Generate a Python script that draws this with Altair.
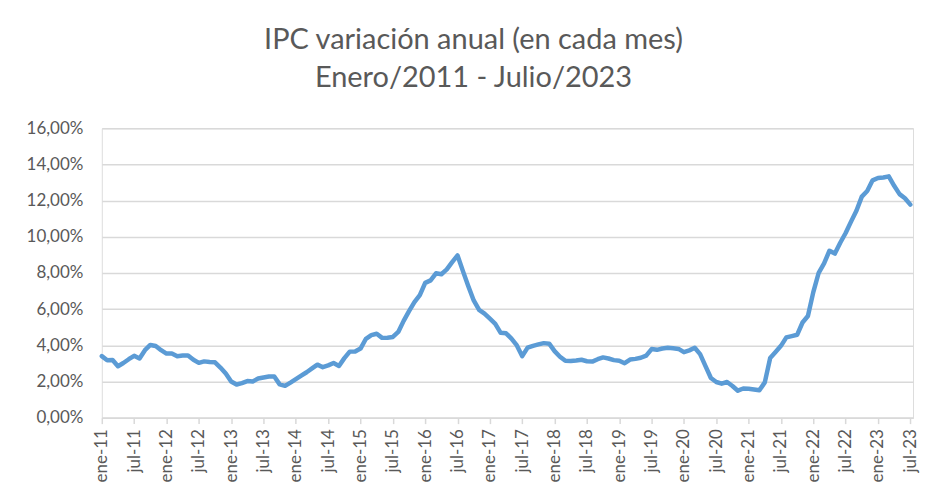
import altair as alt
import pandas as pd

# Monthly annual CPI variation (%), Jan 2011 - Jul 2023
ipc_2011 = [3.40, 3.17, 3.19, 2.84, 3.02, 3.23, 3.42, 3.27, 3.73, 4.02, 3.96, 3.73]
ipc_2012 = [3.54, 3.55, 3.40, 3.43, 3.44, 3.20, 3.03, 3.11, 3.08, 3.06, 2.77, 2.44]
ipc_2013 = [2.00, 1.83, 1.91, 2.02, 2.00, 2.16, 2.22, 2.27, 2.27, 1.84, 1.76, 1.94]
ipc_2014 = [2.13, 2.32, 2.51, 2.72, 2.93, 2.79, 2.89, 3.02, 2.86, 3.29, 3.65, 3.66]
ipc_2015 = [3.82, 4.36, 4.56, 4.64, 4.41, 4.42, 4.46, 4.74, 5.35, 5.89, 6.39, 6.77]
ipc_2016 = [7.45, 7.59, 7.98, 7.93, 8.20, 8.60, 8.97, 8.10, 7.27, 6.48, 5.96, 5.75]
ipc_2017 = [5.47, 5.18, 4.69, 4.66, 4.37, 3.99, 3.40, 3.87, 3.97, 4.05, 4.12, 4.09]
ipc_2018 = [3.68, 3.37, 3.14, 3.13, 3.16, 3.20, 3.12, 3.10, 3.23, 3.33, 3.27, 3.18]
ipc_2019 = [3.15, 3.01, 3.21, 3.25, 3.31, 3.43, 3.79, 3.75, 3.82, 3.86, 3.84, 3.80]
ipc_2020 = [3.62, 3.72, 3.86, 3.51, 2.85, 2.19, 1.97, 1.88, 1.97, 1.75, 1.49, 1.61]
ipc_2021 = [1.60, 1.56, 1.51, 1.95, 3.30, 3.63, 3.97, 4.44, 4.51, 4.58, 5.26, 5.62]
ipc_2022 = [6.94, 8.01, 8.53, 9.23, 9.07, 9.67, 10.21, 10.84, 11.44, 12.22, 12.53, 13.12]
ipc_2023 = [13.25, 13.28, 13.34, 12.82, 12.36, 12.13, 11.78]

tick_labels = [
    "ene-11", "jul-11", "ene-12", "jul-12", "ene-13", "jul-13", "ene-14", "jul-14",
    "ene-15", "jul-15", "ene-16", "jul-16", "ene-17", "jul-17", "ene-18", "jul-18",
    "ene-19", "jul-19", "ene-20", "jul-20", "ene-21", "jul-21", "ene-22", "jul-22",
    "ene-23", "jul-23",
]
y_ticks = [0, 2, 4, 6, 8, 10, 12, 14, 16]

values = (ipc_2011 + ipc_2012 + ipc_2013 + ipc_2014 + ipc_2015 + ipc_2016 +
          ipc_2017 + ipc_2018 + ipc_2019 + ipc_2020 + ipc_2021 + ipc_2022 + ipc_2023)
df = pd.DataFrame({"idx": list(range(len(values))), "ipc": values})

label_array = "[" + ",".join("'" + t + "'" for t in tick_labels) + "]"
grey = "#595959"
font = "Lato"

chart = alt.Chart(df).mark_line(
    color="#5B9BD5", strokeWidth=4.5, strokeCap="round", strokeJoin="round"
).encode(
    x=alt.X(
        "idx:Q",
        scale=alt.Scale(domain=[0, 150.5], nice=False, zero=False),
        axis=alt.Axis(
            title=None,
            values=list(range(0, 151, 6)),
            labelExpr=label_array + "[round(datum.value/6)]",
            labelAngle=-90,
            labelAlign="right",
            labelBaseline="middle",
            labelPadding=5,
            labelFontSize=17,
            labelColor=grey,
            labelFont=font,
            grid=False,
            domainColor="#D9D9D9",
            domainWidth=1.5,
            tickColor="#D9D9D9",
            tickSize=6,
            tickWidth=1.5,
            labelOverlap=False,
        ),
    ),
    y=alt.Y(
        "ipc:Q",
        scale=alt.Scale(domain=[0, 16], nice=False),
        axis=alt.Axis(
            title=None,
            values=y_ticks,
            labelExpr="replace(format(datum.value, '.2f'), '.', ',') + '%'",
            labelFontSize=17,
            labelColor=grey,
            labelFont=font,
            labelPadding=19,
            domain=False,
            ticks=False,
            grid=True,
            gridColor="#D9D9D9",
            gridWidth=1.5,
        ),
    ),
).properties(
    width=813,
    height=290,
    title=alt.Title(
        text=["IPC variación anual (en cada mes)", "Enero/2011 - Julio/2023"],
        fontSize=29,
        font=font,
        fontWeight="normal",
        color=grey,
        anchor="middle",
        dx=-34,
        offset=26,
        lineHeight=38,
    ),
    padding={"left": 94, "top": 120, "right": 10, "bottom": 76},
    autosize=alt.AutoSizeParams(type="none"),
).configure_view(stroke=None).configure(background="white")

chart.save("out.html", embed_options={"renderer": "svg", "actions": False})
